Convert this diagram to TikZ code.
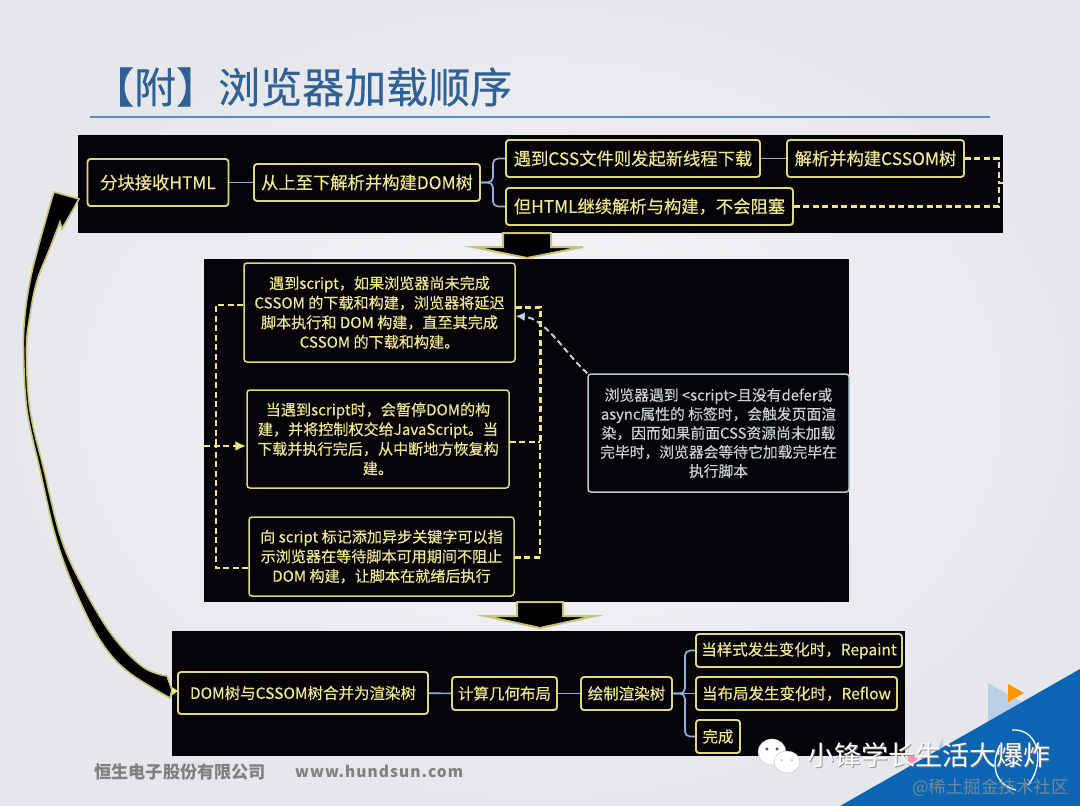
\documentclass[tikz,border=0pt]{standalone}
\usepackage{fontspec}
\setmainfont{Noto Sans CJK SC}
\newfontfamily\medf{Noto Sans CJK SC}[FakeBold=0.35]
\usetikzlibrary{arrows.meta,calc}
\definecolor{panelc}{HTML}{050208}
\definecolor{boxc}{HTML}{E0D87E}
\definecolor{textc}{HTML}{EFE88F}
\definecolor{linkc}{HTML}{8FB0DC}
\definecolor{dashc}{HTML}{EFE67C}
\definecolor{notec}{HTML}{B5CDD3}
\definecolor{notet}{HTML}{C6D3D6}
\definecolor{titlec}{HTML}{2F6096}
\definecolor{rulec}{HTML}{5B8DBF}
\definecolor{khaki}{HTML}{C6C27A}
\definecolor{cornerc}{HTML}{0B65B3}
\definecolor{bgin}{HTML}{F8F8FA}
\definecolor{bgout}{HTML}{E6E7EB}
\definecolor{tlblue}{HTML}{B9CFE8}
\tikzset{
  x=1pt,y=-1pt,
  panel/.style={fill=panelc,draw=none},
  box/.style={draw=boxc,line width=1.9pt,rounded corners=3pt,fill=panelc,text=textc,inner sep=0pt,align=center,font=\medf\fontsize{17.3}{20}\selectfont},
  rowthree/.style={box,font=\medf\fontsize{15.5}{20}\selectfont},
  para/.style={box,line width=1.5pt,font=\medf\fontsize{15.1}{19.6}\selectfont},
  note/.style={box,draw=notec,text=notet,line width=1.5pt,font=\medf\fontsize{14.8}{19}\selectfont},
  link/.style={draw=linkc,line width=1.7pt,rounded corners=5pt},
  dashline/.style={draw=dashc,line width=2.4pt,dash pattern=on 6pt off 3.5pt},
  block/.style={fill=black,draw=khaki,line width=2pt,line join=miter},
}
\begin{document}
\begin{tikzpicture}
\useasboundingbox (0,0) rectangle (1080,806);
\shade[inner color=bgin, outer color=bgout] (0,0) rectangle (1080,806);
% corner decoration
\fill[tlblue] (988,683) -- (1027,705) -- (988,724) -- cycle;
\fill[orange!85!yellow] (1008,684) -- (1024,693) -- (1008,702) -- cycle;
\fill[tlblue] (934,754) -- (943,738) -- (943,760) -- cycle;
\fill[magenta!60!red!40!white] (908,752) -- (918,759) -- (908,766) -- cycle;
\fill[cornerc] (840,806) -- (1080,669) -- (1080,806) -- cycle;
\draw[white,line width=1.3pt] (1012,730) .. controls (1040,728) and (1045,765) .. (1028,785);
\draw[white,line width=1.3pt] (1000,745) .. controls (990,765) and (995,785) .. (1016,790);
% title
\node[anchor=west,inner sep=0pt,text=titlec,font=\medf\fontsize{42}{44}\selectfont] (title) at (92,87) {【附】浏览器加载顺序};
\coordinate (ruleL) at (90,117);
\coordinate (ruleR) at (990,117);
\draw[rulec,line width=1.6pt] (ruleL) -- (ruleR);
% panels
\fill[panel] (78,135) rectangle (1003,233);
\fill[panel] (204,259) rectangle (849,602);
\fill[panel] (172,631) rectangle (905,756);
% big arrows
\draw[block] (503,233) -- (551,233) -- (551,247) -- (583,247) -- (527,258) -- (473,247) -- (503,247) -- cycle;
\draw[block] (517,602) -- (563,602) -- (563,616) -- (595,616) -- (540,628) -- (485,616) -- (517,616) -- cycle;
\draw[block,line width=1.6pt] (79,199) -- (54,192) -- (52,198)
  -- plot[smooth,tension=.6] coordinates {(52,198) (38,248) (30,281) (25,315) (23.5,350) (27,410) (40,470) (56,538) (75,590) (100,640) (127,671) (170,698)}
  -- (172,690) -- (167,676)
  -- plot[smooth,tension=.6] coordinates {(167,676) (143,667) (112,635) (82,585) (61,538) (44,470) (30,410) (26.5,350) (30,315) (37,281) (50,248) (60,222)}
  -- (62,229) -- cycle;
% row 1
\node[box,minimum width=141pt,minimum height=47pt] (a1) at (158,182.5) {分块接收HTML};
\node[box,minimum width=226pt,minimum height=37pt] (a2) at (367,182.5) {从上至下解析并构建DOM树};
\node[box,minimum width=254pt,minimum height=37pt] (a3) at (633,158.5) {遇到CSS文件则发起新线程下载};
\node[box,minimum width=177pt,minimum height=37pt] (a4) at (875.5,158.5) {解析并构建CSSOM树};
\node[box,minimum width=287pt,minimum height=37pt] (a5) at (649.5,206.5) {但HTML继续解析与构建，不会阻塞};
\coordinate (aJ) at (999,182.5);
\coordinate (aE) at (1003,182.5);
\draw[link] (a1) -- (a2);
\draw[link] (a2.east) -- ++(12,0) |- (a3.west);
\draw[link] (a2.east) -- ++(12,0) |- (a5.west);
\draw[link] (a3) -- (a4);
\draw[dashline] (a4.east) -| (aJ);
\draw[dashline] (a5.east) -| (aJ);
\draw[draw=dashc,line width=2pt] (aJ) -- (aE);
% row 2
\node[para,minimum width=271pt,minimum height=99pt] (b1) at (379.5,312.5) {遇到script，如果浏览器尚未完成\\CSSOM 的下载和构建，浏览器将延迟\\脚本执行和 DOM 构建，直至其完成\\CSSOM 的下载和构建。};
\node[para,minimum width=262pt,minimum height=98pt] (b2) at (378,439) {当遇到script时，会暂停DOM的构\\建，并将控制权交给JavaScript。当\\下载并执行完后，从中断地方恢复构\\建。};
\node[para,minimum width=265pt,minimum height=79pt] (b3) at (381.5,556.5) {向 script 标记添加异步关键字可以指\\示浏览器在等待脚本可用期间不阻止\\DOM 构建，让脚本在就绪后执行};
\node[note,minimum width=261pt,minimum height=118pt] (n) at (718.5,433) {浏览器遇到 <script>且没有defer或\\async属性的 标签时，会触发页面渲\\染，因而如果前面CSS资源尚未加载\\完毕时，浏览器会等待它加载完毕在\\执行脚本};
\coordinate (bIn) at (204,446);
\coordinate (bL) at (216,446);
\coordinate (bR) at (540,442);
\draw[dashline] ([yshift=7.5pt]b1.west) -| (bL);
\draw[dashline] ([yshift=-11.5pt]b3.west) -| (bL);
\draw[dashline,-{Latex[length=11pt,width=10pt,fill=dashc]}] (bIn) -- (b2.west |- bIn);
\draw[dashline,line width=3pt] ([yshift=5.5pt]b1.east) -| (bR);
\draw[dashline] ([yshift=-1pt]b3.east) -| (bR);
\draw[dashline] (b2.east |- bR) -- (bR);
\draw[draw=notec!90!white,line width=2pt,dash pattern=on 6pt off 3.5pt,-{Latex[length=9pt,width=9pt,fill=notec]}] (n.north west) .. controls (565,353) and (545,318) .. ([yshift=-3.5pt]b1.east);
% row 3
\node[rowthree,minimum width=250pt,minimum height=42pt] (c1) at (303,693) {DOM树与CSSOM树合并为渲染树};
\node[rowthree,minimum width=105pt,minimum height=33pt] (c2) at (504.5,693.5) {计算几何布局};
\node[rowthree,minimum width=91pt,minimum height=33pt] (c3) at (626.5,693.5) {绘制渲染树};
\node[rowthree,minimum width=206pt,minimum height=33pt] (c4) at (799,650.5) {当样式发生变化时，Repaint};
\node[rowthree,minimum width=201pt,minimum height=33pt] (c5) at (796.5,693.5) {当布局发生变化时，Reflow};
\node[rowthree,minimum width=44pt,minimum height=33pt] (c6) at (718,736.5) {完成};
\draw[link] (c1) -- (c2);
\draw[link] (c2) -- (c3);
\draw[link] (c3.east) -- ++(12,0) |- (c4.west);
\draw[link] (c3) -- (c5);
\draw[link] (c3.east) -- ++(12,0) |- (c6.west);
\fill[dashc] (172,687) -- (178,691) -- (172,695) -- cycle;
% footer
\node[anchor=west,inner sep=0pt,text=black!50,font=\fontsize{17.2}{18}\bfseries\selectfont] (f1) at (94,772) {恒生电子股份有限公司};
\node[anchor=west,inner sep=0pt,text=black!50,font=\fontsize{15.5}{16}\bfseries\addfontfeature{LetterSpace=7}\selectfont] (f2) at (295,771) {www.hundsun.com};
% watermark
\fill[white,draw=gray!40,line width=.4pt] (772,752) ellipse (14 and 13);
\fill[white,draw=gray!50,line width=.4pt] (787,762) ellipse (13 and 11);
\fill[black!70] (767,749) circle (1.6) (777,749) circle (1.6);
\fill[gray!60] (782,760) circle (1) (792,760) circle (1);
\node[anchor=west,inner sep=0pt,text=black!50,opacity=.8,font=\fontsize{27}{28}\selectfont] (w0) at (808,756) {小锋学长生活大爆炸};
\node[anchor=west,inner sep=0pt,text=white,font=\fontsize{27}{28}\selectfont] (w1) at (807,755) {小锋学长生活大爆炸};
\node[anchor=west,inner sep=0pt,text=black!42,opacity=.75,font=\fontsize{17.5}{18}\selectfont] (w2) at (912,788) {@稀土掘金技术社区};
\end{tikzpicture}
\end{document}
